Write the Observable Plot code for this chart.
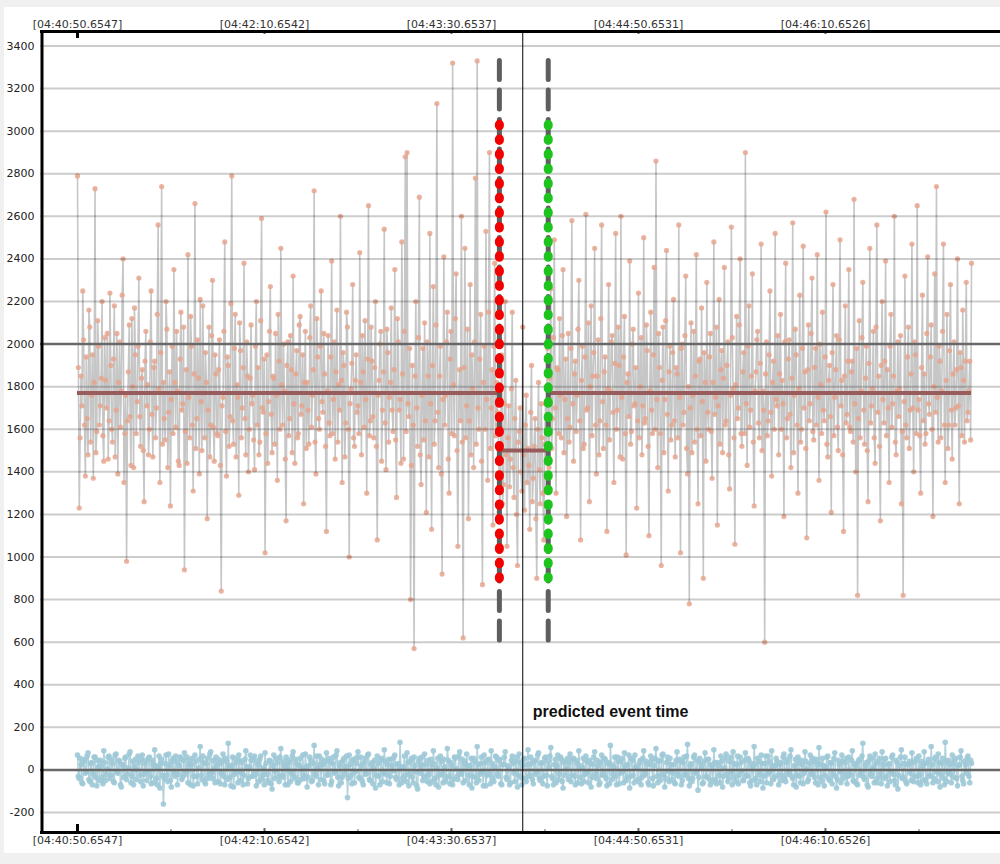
<!DOCTYPE html>
<html>
<head>
<meta charset="utf-8">
<script src="https://cdn.jsdelivr.net/npm/d3@7"></script>
<script src="https://cdn.jsdelivr.net/npm/@observablehq/plot@0.6"></script>
<style>
  html, body { margin: 0; padding: 0; background: #f0f0f0; }
  #panel { position: absolute; left: 4px; top: 7px; width: 996px; height: 846px; background: #ffffff; }
  #chart { position: absolute; left: 0; top: 0; }
</style>
</head>
<body>
<div id="panel"></div>
<div id="chart"></div>
<script>
// ---------- data ----------
const sampleInterval = 0.375; // seconds between samples (t = index * interval)

// sensor signal (upper trace)
const signalValues = [
  2790,1890,1230,1560,1850,1710,2250,2020,1620,1380,1940,1650,1480,2160,2080,1540,1760,1950,1370,1820,2730,1490,1590,2110,1990,1620,1710,1840,2200,1570,1450,2030,1830,1700,2050,1460,1640,2240,1900,1600,
  1540,1930,2180,1470,1690,2050,1390,1820,2010,1610,1780,2230,2400,1350,1580,1760,980,1640,1870,2090,1660,1430,2120,1800,1420,2170,1950,1580,1730,1990,2310,1660,1520,1840,1880,1500,1260,1920,2060,1710,
  1810,1480,1600,2010,2250,1670,1470,1890,1920,1560,1700,2140,2560,1790,1350,1960,2740,1530,1820,1650,1550,2200,2070,1420,1680,1870,1240,1740,1990,1580,2350,1820,1610,2060,1780,1450,1430,1930,2150,1690,
  1720,2080,940,1590,1880,1440,2420,1750,1560,2130,1990,1620,1310,1860,2660,1510,1650,2020,1840,1390,2210,1730,1500,2180,1770,1560,1960,1820,1180,1690,2080,1470,1620,2040,2300,1610,1450,1950,1860,1580,
  1570,1880,2020,1430,840,1710,1750,2060,2480,1590,1380,1940,1900,1520,1660,2190,2790,1640,1530,1980,2140,1470,1810,1750,1290,2100,1970,1560,1700,1890,2380,1650,1480,2010,1850,1400,1600,1840,2090,1720,
  1760,1550,1410,1990,2200,1620,1890,1480,1540,2110,2590,1700,1680,1930,1020,1580,1950,1440,1730,2060,2270,1670,1490,1850,1840,1530,2050,1760,1360,2140,1920,1600,2450,1810,1620,2000,1780,1460,1170,1900,
  2010,1570,1650,2040,1880,1490,2320,1720,1440,1860,1970,1560,1580,2090,2130,1670,1710,1950,1250,1820,2060,1510,1820,1690,1530,2030,2180,1610,1760,1880,2720,1540,1390,2120,1940,1650,1600,1990,2250,1730,
  1680,2050,1860,1520,1120,1780,2040,1630,1570,1940,2390,1580,1740,2010,1460,1870,2160,1540,1810,1690,2600,1830,1350,1960,1900,1470,1630,2150,2080,1600,1000,1720,1790,1910,2280,1560,1520,1830,1950,1680,
  1710,1580,2430,1820,1480,2040,1870,1610,2110,1740,1300,1930,2650,1570,1640,2080,1920,1660,1560,1890,2200,1520,1080,1760,1830,2000,2060,1450,1690,1870,2540,1630,1410,2070,1960,1540,1750,1820,2170,1690,
  1590,1880,2350,1550,1280,2120,2010,1690,1740,1440,2480,1860,1460,2060,2880,1590,2900,1720,1660,1980,800,1430,1900,1620,570,1850,2200,1700,1520,2030,2690,1480,1340,1760,1980,1550,2100,1640,1210,2010,
  1850,1470,2520,1720,1130,1900,2270,1530,1640,2090,3130,1680,1420,1850,1990,1390,920,1740,2410,1620,1760,2010,2150,1460,1300,1930,2060,1580,3320,1810,1570,2120,2330,1500,1050,1770,1880,1640,2600,1540,
  620,1890,2450,1560,1710,2070,1180,1640,2280,1480,1950,1790,1420,2010,2780,1530,3330,1700,1600,1930,2140,1450,870,1820,1990,1600,2530,1740,1360,2150,2900,1510,1700,1880,1150,1990,2380,1570,1820,1680,
  // inside the event window
  1620,1390,1180,1610,1950,1250,1340,1720,2200,1480,1050,1560,1710,1330,1460,1790,2150,1420,1280,1650,1830,1200,960,1540,1590,1700,1400,1310,
  2080,1480,1220,1620,1760,1350,1510,1430,1130,1680,1900,1260,1370,1520,1650,1180,900,1600,1820,1410,1250,1720,1560,1300,1080,1530,1720,1450,
  // after the event window
  1980,1620,1420,1840,2260,1510,1650,2030,2490,1700,1300,1890,1880,1580,2120,1760,1560,2040,2350,1490,1740,1930,1190,1650,
  2050,1540,1610,1980,2580,1720,1450,1860,1920,1590,1760,2070,2300,1640,1080,1830,1990,1510,1530,1940,2610,1690,1700,2100,1260,1800,2180,1570,1850,1960,2450,1620,1390,1850,2020,1480,1640,2120,2560,1730,
  1510,1870,1940,1620,1120,1790,2280,1550,1780,2010,2040,1680,1350,1910,2520,1600,1690,2080,1900,1470,2600,1750,1460,1940,2130,1580,1010,1820,1860,1660,2390,1530,1590,2000,2070,1710,1720,1890,1230,1640,
  2240,1560,1800,2030,1480,1710,2500,1630,1650,2090,1970,1520,1100,1780,2150,1690,1580,1950,2360,1600,2860,1740,1420,2050,1890,1580,960,1830,2080,1490,1740,2110,2440,1670,1310,1870,1990,1550,1620,1960,
  2210,1640,1470,1890,1860,1560,2560,1750,1020,1980,2000,1620,1680,2040,2320,1510,1390,1800,780,1700,2100,1490,1760,2060,1540,1850,2420,1600,1250,1920,1930,1570,2170,1730,900,1960,1820,1450,2290,1680,
  1600,1940,2050,1590,1370,1820,2480,1670,1750,2080,1150,1710,2210,1530,1880,1970,1490,1840,2360,1620,1640,1900,2010,1480,1320,1760,2550,2030,1790,1560,1060,1810,2130,1650,1700,2090,2400,1580,1520,1870,
  1960,1580,2900,1720,1430,1990,2180,1610,1690,1850,2330,1540,1240,1780,1870,2020,2060,1630,1560,1910,2470,1500,1780,1690,600,1860,2010,1570,1640,1950,2250,1680,1380,1820,1920,1600,2520,1740,1710,2040,
  1480,1860,2140,1600,1830,1720,1190,2010,2380,1560,1650,1930,2020,1670,1420,1840,2570,1490,1760,2070,1950,1620,1300,1790,2230,1540,1600,1980,2460,1700,1870,1510,1090,1880,2090,1640,1720,2050,2310,1590,
  1550,1890,1980,1620,2420,1750,1360,2000,1810,1580,2150,1690,1640,1940,2620,1530,1470,1830,1900,1660,1210,1960,2280,1570,1750,1880,2040,1610,1500,2020,2490,1710,1830,1480,1120,1850,2180,1630,1670,1920,
  2350,1610,1590,1870,1920,1540,2680,1720,1400,1980,820,1650,2110,1560,1780,2030,2290,1690,1530,1840,1990,1500,1260,1910,2450,1630,1710,1790,2060,1560,1440,2080,2560,1680,1850,1520,1170,1900,2200,1740,
  1630,1920,2390,1570,1880,1700,1350,1990,2140,1610,1720,1850,2600,1540,1480,1780,2010,1660,1790,2040,1250,1590,820,1730,2320,1620,1560,1940,2080,1510,1690,1860,2470,1700,1400,2010,1950,1580,2650,1690,
  1740,1570,1300,1890,2230,1640,1860,1530,1580,2050,2410,1720,1670,1940,2090,1600,1190,1800,2330,1680,2740,1750,1540,1990,1920,1560,1780,2060,2470,1620,1350,1830,2140,1510,1620,1970,2280,1690,1460,1860,
  2010,1620,1700,1880,2400,1710,1250,1960,1890,1570,2160,1830,1540,1920,2290,1640,1680,1780,1920,1550,2380
];

// residual (lower trace)
const residualValues = [
  70,-30,-40,55,25,-60,-65,40,50,-15,-10,65,80,-45,-55,30,35,-70,-20,60,60,-35,-75,45,15,-50,45,20,-35,-65,90,35,-50,-20,5,60,65,-40,-25,50,
  30,-55,-60,70,75,-10,-15,45,40,-70,-80,25,20,-35,55,60,-45,-20,10,75,85,-60,-30,40,-70,15,50,-45,0,65,35,-25,-55,50,70,-75,-20,30,45,-50,
  -10,55,60,-30,-65,45,25,-60,95,20,-40,-70,15,65,-85,30,50,-25,-160,-40,30,70,-25,-55,75,20,-50,-80,40,55,-15,-30,65,40,-70,-20,20,60,55,-45,
  -35,45,80,-20,-5,60,-60,25,45,-70,25,55,-75,-30,70,40,-30,-65,10,50,110,-25,-45,65,35,-55,-65,30,55,-40,-20,75,85,-15,-40,45,5,-60,60,25,
  -55,50,30,-65,-15,40,75,-30,-70,55,40,-45,125,20,-35,-75,20,60,-80,-20,55,35,-10,-60,70,45,-50,-15,35,-70,-25,50,90,15,-65,-40,15,70,45,-30,
  -30,55,65,-20,-75,40,25,-55,50,65,-45,-25,10,-70,80,30,-20,-50,-60,45,40,-65,-90,20,70,-40,-5,55,35,-30,-55,60,100,-25,-35,40,20,-70,60,15,
  -70,35,45,-55,-15,65,85,-30,-40,50,30,-60,-60,20,55,-45,5,70,-25,-40,75,15,-80,-35,20,60,45,-55,-50,30,115,-20,-30,65,10,-70,65,25,-45,50,
  25,-50,-65,40,80,-25,-20,55,40,-70,-55,30,60,-15,-10,70,90,-35,-75,20,35,-60,-35,45,55,-20,15,65,-130,-40,70,25,-25,-65,45,50,-60,-10,30,60,
  85,-35,-40,60,20,-55,-70,35,55,-20,-15,70,75,-45,-50,25,35,-65,10,45,-85,-25,65,30,-30,-70,45,55,-55,-15,95,40,-20,-60,25,50,-65,-30,50,20,
  -5,60,70,-35,-45,25,30,-70,130,15,-60,-40,15,65,-25,-55,80,35,-75,-20,40,55,-35,-60,60,20,-10,-75,-90,40,55,-15,20,60,-50,-30,75,25,-30,-55,
  45,-20,-65,50,25,-55,90,30,-40,-70,10,55,-80,-25,65,40,-20,-60,50,15,-55,-35,100,45,-30,-65,35,20,-70,-45,60,55,5,-30,-45,65,85,-20,-15,50,
  -60,30,40,-50,75,20,-25,-70,20,55,-85,-30,55,40,-35,-60,110,25,-50,-20,30,60,-10,-75,70,35,-75,-25,45,50,-20,-65,90,30,-40,-55,15,65,60,-20,
  -30,45,50,-65,-70,25,25,60,85,-35,-45,20,10,-70,-60,45,65,30,-15,-55,40,60,-80,-25,75,35,-35,-70,20,50,55,-40,-55,25,95,-30,-25,60,30,-45,
  -65,40,45,-20,-10,70,80,-40,-50,30,35,-65,-30,55,60,-25,-75,40,15,65,105,-30,-40,-70,25,50,-60,20,70,-45,-20,60,50,-55,-85,35,40,-25,5,55,
  -45,35,75,-55,-25,50,55,-30,-70,45,30,-60,90,20,-35,-65,10,55,-55,-20,65,40,-15,-60,45,30,-80,-35,25,60,85,-20,-40,45,20,-70,-60,35,70,-25,
  -20,55,50,-40,-75,30,35,-65,115,25,-45,-20,15,60,-30,-70,60,40,-65,-15,40,55,-10,-60,80,20,-50,-35,25,70,-85,-30,55,45,-25,-60,70,15,10,-45,
  -55,30,45,-70,-35,55,90,-25,-15,40,30,-60,-70,25,65,45,-40,-75,20,55,100,-30,-60,40,45,-50,-25,70,75,-20,-80,-40,35,60,-5,-55,55,25,-45,-15,
  25,-60,-65,45,85,-20,-30,50,40,-70,-50,35,60,-25,-20,65,120,-40,-75,20,30,-55,-40,60,70,-15,-10,45,-95,-35,55,30,15,-65,-60,40,80,-30,-35,50,
  50,-45,-70,25,20,-55,95,35,-45,-65,35,20,-25,-60,65,40,-80,-30,10,55,75,-20,-55,-40,40,60,-15,-70,85,30,-35,-55,25,65,-65,-25,60,35,-5,-50,
  -50,45,80,-25,-30,55,45,-60,-75,30,15,-50,110,25,-40,-70,55,40,-20,-55,70,30,-85,-30,30,65,-60,-20,65,40,-10,-65,90,20,-45,-35,20,55,40,-25,
  -70,25,35,-50,-25,60,75,-40,-55,35,50,-20,-15,65,95,-30,-40,-70,20,50,-80,-25,60,35,-30,-60,45,25,-65,-15,85,40,5,-55,-45,30,70,-20,-20,55,
  40,-35,-60,50,25,-70,105,30,-35,-55,55,20,-75,-25,15,60,65,-40,-50,35,30,-65,-20,55,80,-30,-85,-45,45,25,-10,-60,70,40,-40,-20,35,55,-65,-30,
  60,-20,-25,45,90,-50,-55,30,20,-65,-70,40,50,-25,-15,65,125,-35,-45,20,35,-70,-80,45,65,-20,-30,55,10,-60,75,30,-60,-40,40,55,-20,-65,85,25,
  -40,50,55,-30,-75,25,30,-55,-10,60,70,-20,-50,-70,45,35,-90,-25,20,60,95,-40,-35,30,60,-55,-65,25,25,40,-15,-50,80,35,-55,-30,40,55,-30,-60,
  65,-25,-70,40,20,-50,85,30,-45,-65,35,50,-25,-30,110,25,-60,-40,50,60,-10,-55,75,35,-80,-20,30,55,-40,-70,130,40,-55,-15,45,25,-20,-60,70,30,
  -35,45,55,-40,-75,20,25,60,90,-30,-50,-65,40,25,-15,55,65,-30,-60,45,30
];

// axes
const timeTickSeconds = [0, 80, 160, 240, 320];
const timeTickLabels = ["[04:40:50.6547]", "[04:42:10.6542]", "[04:43:30.6537]", "[04:44:50.6531]", "[04:46:10.6526]"];
const minorTickSeconds = [40, 120, 200, 280, 360];
const valueTicks = [-200, 0, 200, 400, 600, 800, 1000, 1200, 1400, 1600, 1800, 2000, 2200, 2400, 2600, 2800, 3000, 3200, 3400];
const referenceLevels = [0, 2000];

// event window
const eventTime = 190.5;
const windowStart = 180.5;
const windowEnd = 201.4;
const markerTop = 3030;
const markerBottom = 860;
const meanBefore = 1770;
const meanInside = 1500;
const meanAfter = 1770;
const eventLabel = "predicted event time";

// ---------- build ----------
const signal = signalValues.map((v, i) => ({t: i * sampleInterval, v}));
const residual = residualValues.map((v, i) => ({t: i * sampleInterval, v}));
const lastT = (signalValues.length - 1) * sampleInterval;
const sigMax = d3.max(signalValues), sigMin = d3.min(signalValues);

const meanSegments = [
  {x1: 0, x2: windowStart, y: meanBefore},
  {x1: windowStart, x2: windowEnd, y: meanInside},
  {x1: windowEnd, x2: lastT, y: meanAfter}
];

const W = 1000, H = 864, mT = 30, mB = 32, mL = 40, mR = 0;
const innerH = H - mT - mB;
const xDomain = [-15.83, 394.9];
const yDomain = [-294, 3473];
const axisFont = "'DejaVu Sans', Verdana, sans-serif";

const chart = Plot.plot({
  width: W, height: H,
  marginTop: mT, marginBottom: mB, marginLeft: mL, marginRight: mR,
  style: {background: "transparent", fontFamily: axisFont, fontSize: "11px", color: "#222"},
  x: {domain: xDomain},
  y: {domain: yDomain},
  marks: [
    // traces
    Plot.line(signal, {x: "t", y: "v", stroke: "#c6c6c6", strokeWidth: 1.6}),
    Plot.dot(signal, {x: "t", y: "v", r: 2.6, fill: "#e6a38b", fillOpacity: 0.82}),
    Plot.line(residual, {x: "t", y: "v", stroke: "#b0d2dd", strokeWidth: 1.5}),
    Plot.dot(residual, {x: "t", y: "v", r: 2.8, fill: "#9fc9d7", fillOpacity: 0.9}),
    // grid on top of the data
    Plot.ruleY(valueTicks, {stroke: "#000", strokeOpacity: 0.2, strokeWidth: 2}),
    Plot.ruleY(referenceLevels, {stroke: "#686868", strokeWidth: 2.5}),
    // segment means
    Plot.ruleY(meanSegments, {y: "y", x1: "x1", x2: "x2", stroke: "#985c5c", strokeWidth: 4}),
    // window markers
    Plot.ruleX([windowStart, windowEnd], {x: d => d, y1: sigMax, y2: sigMin, stroke: "#5e5e5e", strokeWidth: 5, strokeDasharray: "19,10.5", strokeLinecap: "round"}),
    Plot.ruleX([windowStart], {x: d => d, y1: markerTop, y2: markerBottom, stroke: "#f20000", strokeWidth: 9, strokeDasharray: "1.5,13.1", strokeLinecap: "round"}),
    Plot.ruleX([windowEnd], {x: d => d, y1: markerTop, y2: markerBottom, stroke: "#1ec41e", strokeWidth: 9, strokeDasharray: "1.5,13.1", strokeLinecap: "round"}),
    // event
    Plot.ruleX([eventTime], {x: d => d, stroke: "#000", strokeWidth: 1}),
    Plot.text([eventLabel], {x: eventTime, y: 273, text: d => d, dx: 10, textAnchor: "start", fontWeight: "bold", fontSize: 16, fill: "#111",
      fontFamily: "'Liberation Sans', Arial, sans-serif"}),
    // axis ticks (inside frame)
    Plot.ruleX(timeTickSeconds.slice(1), {x: d => d, insetBottom: innerH - 4, stroke: "#666", strokeWidth: 2}),
    Plot.ruleX(timeTickSeconds.slice(1), {x: d => d, insetTop: innerH - 4, stroke: "#666", strokeWidth: 2}),
    Plot.ruleX(minorTickSeconds, {x: d => d, insetBottom: innerH - 3, stroke: "#999", strokeWidth: 1.5}),
    Plot.ruleX(minorTickSeconds, {x: d => d, insetTop: innerH - 3, stroke: "#999", strokeWidth: 1.5}),
    Plot.ruleX([timeTickSeconds[0]], {x: d => d, insetBottom: innerH - 8, stroke: "#000", strokeWidth: 3}),
    Plot.ruleX([timeTickSeconds[0]], {x: d => d, insetTop: innerH - 8, stroke: "#000", strokeWidth: 3}),
    // frame (left, top, bottom)
    Plot.ruleX([xDomain[0]], {x: d => d, stroke: "#000", strokeWidth: 3, dx: 1.5}),
    Plot.ruleY([yDomain[1]], {y: d => d, stroke: "#000", strokeWidth: 3, dy: 1}),
    Plot.ruleY([yDomain[0]], {y: d => d, stroke: "#000", strokeWidth: 3}),
    // axes
    Plot.axisY(valueTicks, {tickSize: 0, tickPadding: 6, fill: "#222", fontSize: 11, fontFamily: axisFont, tickFormat: d => String(d)}),
    Plot.axisX(timeTickSeconds, {anchor: "top", tickSize: 0, tickPadding: 3, fill: "#333", fontSize: 11, fontFamily: axisFont,
      tickFormat: d => timeTickLabels[timeTickSeconds.indexOf(d)]}),
    Plot.axisX(timeTickSeconds, {anchor: "bottom", tickSize: 0, tickPadding: 4, fill: "#333", fontSize: 11, fontFamily: axisFont,
      tickFormat: d => timeTickLabels[timeTickSeconds.indexOf(d)]})
  ]
});
document.getElementById("chart").appendChild(chart);
</script>
</body>
</html>
